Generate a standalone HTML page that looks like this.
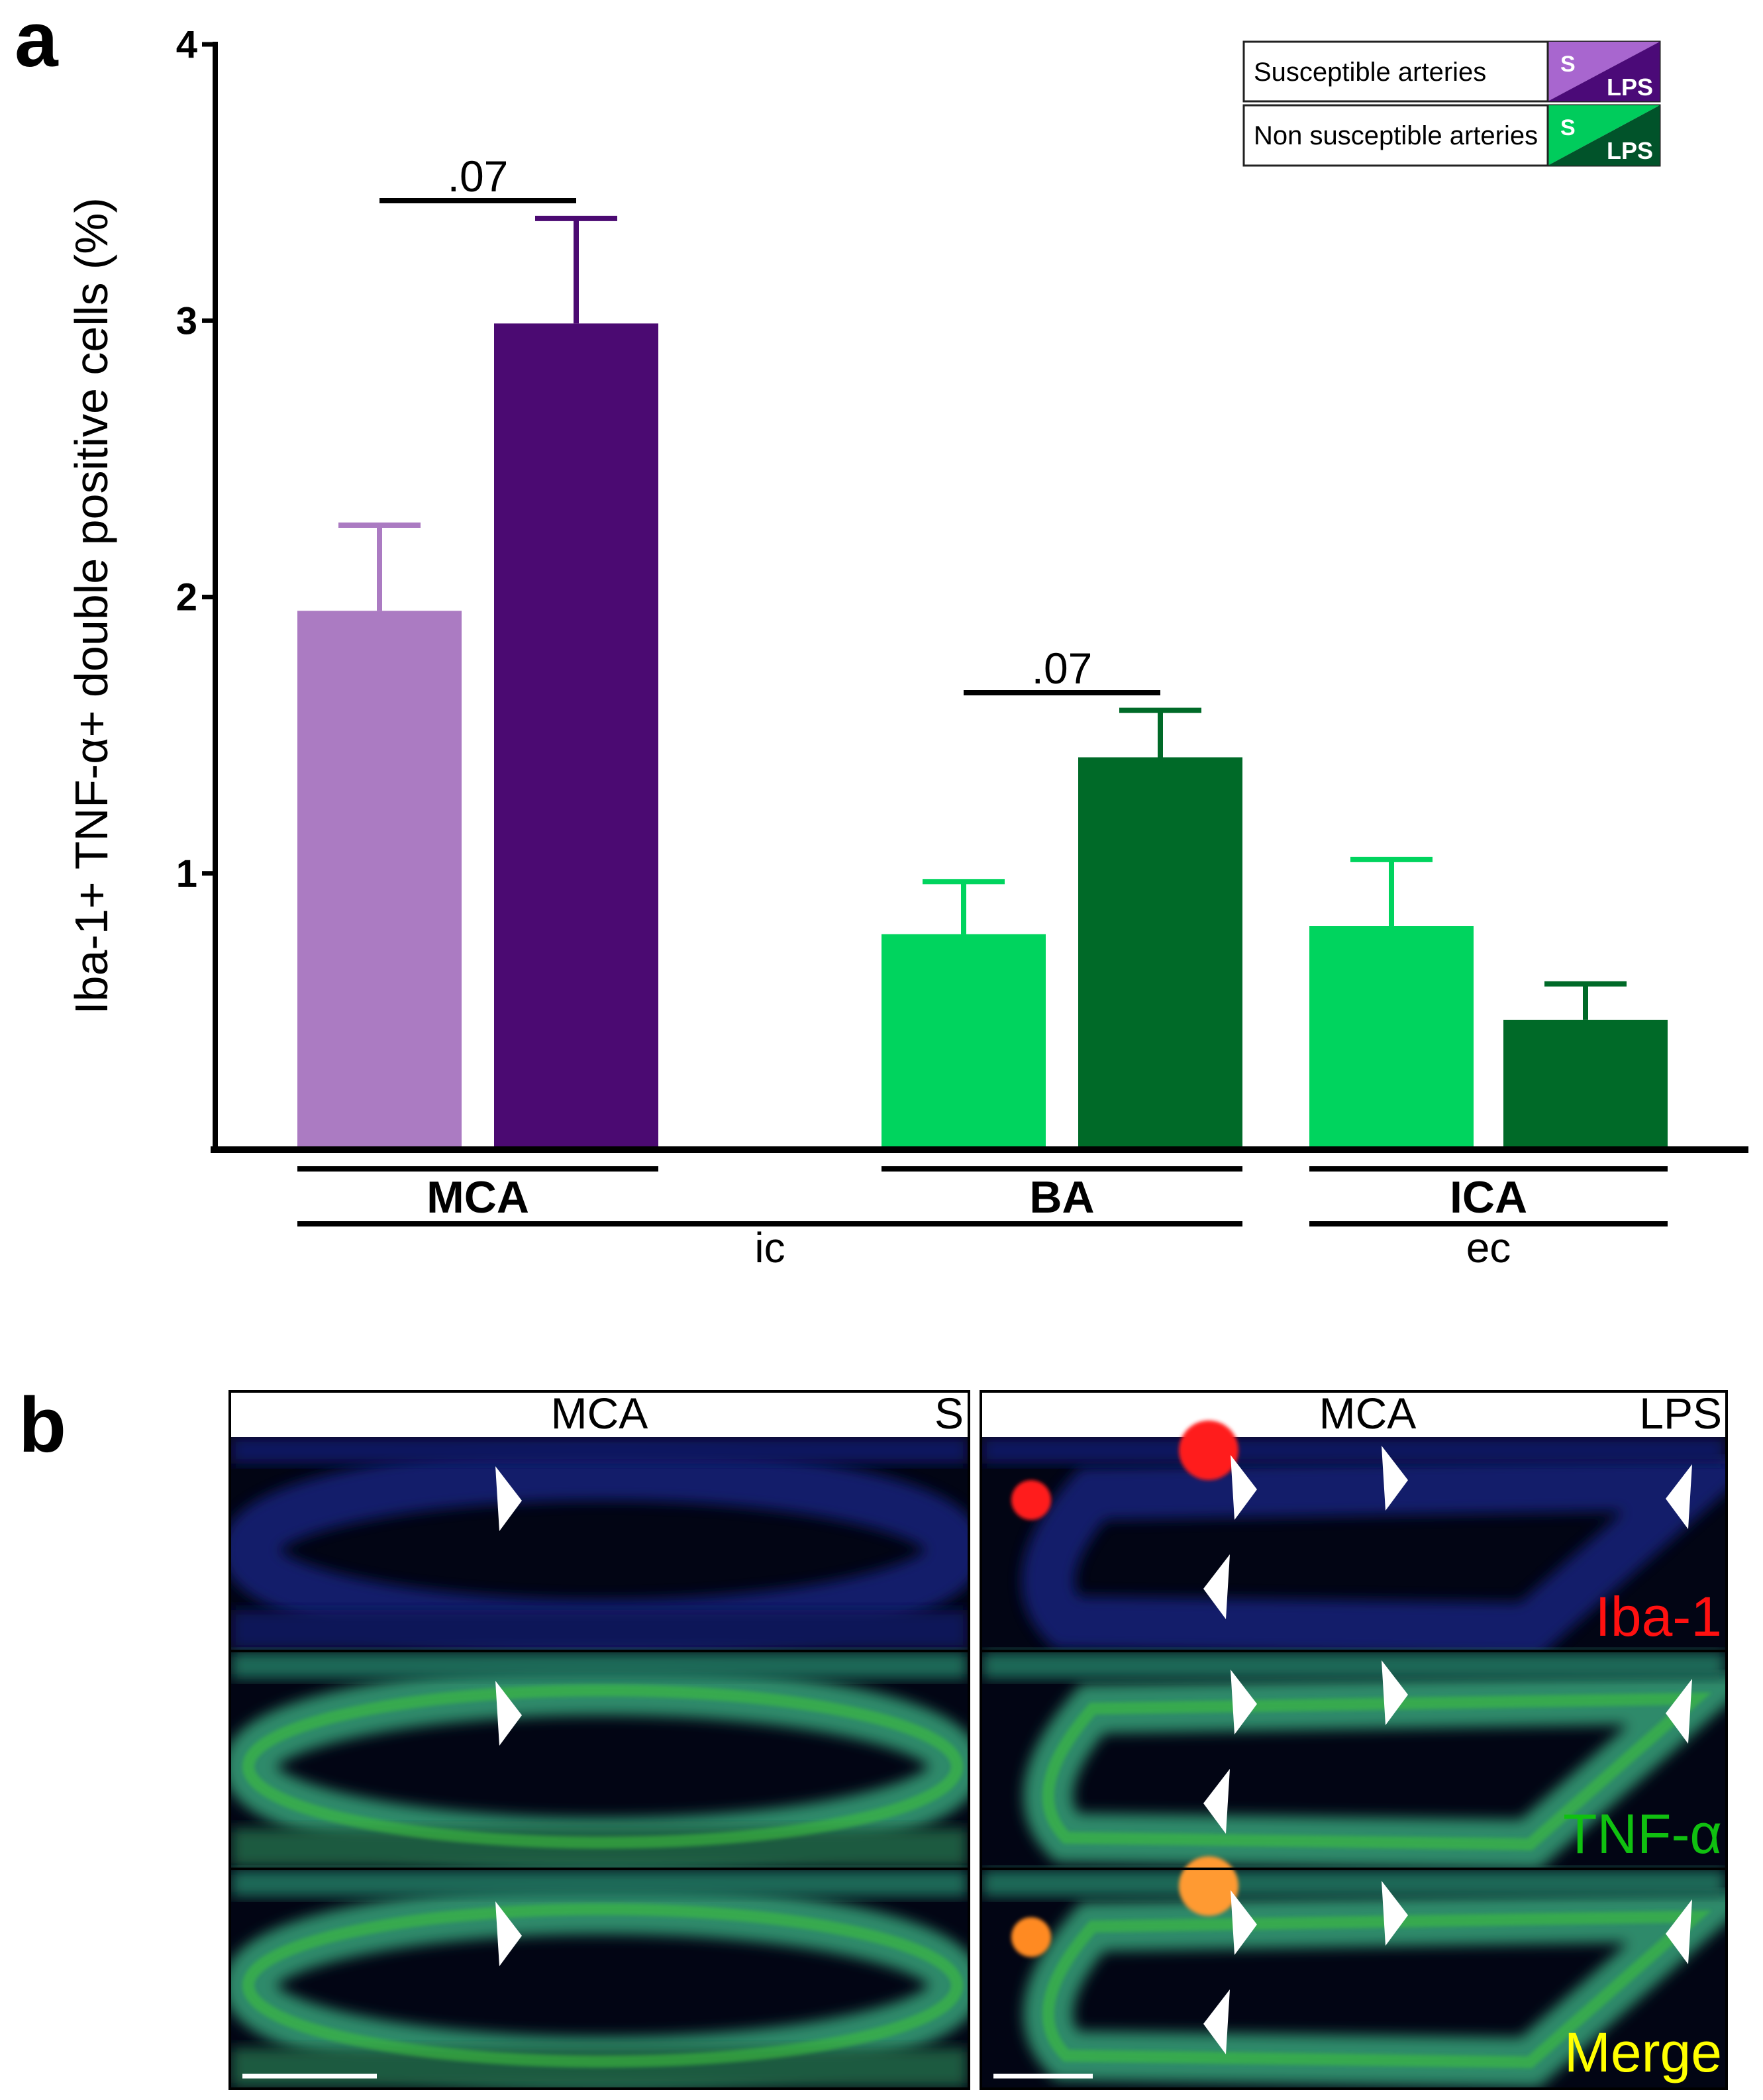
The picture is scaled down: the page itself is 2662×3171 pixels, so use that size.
<!DOCTYPE html>
<html><head><meta charset="utf-8"><style>
html,body{margin:0;padding:0;background:#fff;}
svg{display:block;font-family:"Liberation Sans",sans-serif;}
</style></head><body>
<svg id="fig" width="2662" height="3171" viewBox="0 0 2662 3171" xmlns="http://www.w3.org/2000/svg">
<defs>
  <filter id="blur8" x="-20%" y="-20%" width="140%" height="140%"><feGaussianBlur stdDeviation="10"/></filter>
  <filter id="blur3"><feGaussianBlur stdDeviation="3"/></filter>
  <clipPath id="cl1"><rect x="349" y="2170" width="1112" height="982"/></clipPath>
  <clipPath id="cr1"><rect x="1483" y="2170" width="1122" height="982"/></clipPath>
</defs>
<text x="22" y="100" font-size="118" font-weight="bold">a</text>
<g id="chart"></g>
<g id="legend">
  <rect x="1878" y="63" width="628" height="90" fill="#fff" stroke="#222" stroke-width="3"/>
  <text x="1893" y="122" font-size="40">Susceptible arteries</text>
  <polygon points="2337,63 2506,63 2337,153" fill="#a866cf"/>
  <polygon points="2506,63 2506,153 2337,153" fill="#4b0a78"/>
  <line x1="2337" y1="63" x2="2337" y2="153" stroke="#222" stroke-width="3"/>
  <text x="2356" y="108" font-size="34" font-weight="bold" fill="#fff">S</text>
  <text x="2496" y="144" font-size="36" font-weight="bold" fill="#fff" text-anchor="end">LPS</text>
  <rect x="1878" y="159" width="628" height="91" fill="#fff" stroke="#222" stroke-width="3"/>
  <text x="1893" y="218" font-size="40">Non susceptible arteries</text>
  <polygon points="2337,159 2506,159 2337,250" fill="#00cc5c"/>
  <polygon points="2506,159 2506,250 2337,250" fill="#01532a"/>
  <line x1="2337" y1="159" x2="2337" y2="250" stroke="#222" stroke-width="3"/>
  <text x="2356" y="204" font-size="34" font-weight="bold" fill="#fff">S</text>
  <text x="2496" y="240" font-size="36" font-weight="bold" fill="#fff" text-anchor="end">LPS</text>
</g>

<text x="28" y="2192" font-size="118" font-weight="bold">b</text>
<g id="micro">
  <rect x="347" y="2101" width="1116" height="1053" fill="#fff" stroke="#000" stroke-width="4"/>
  <rect x="1481" y="2101" width="1126" height="1053" fill="#fff" stroke="#000" stroke-width="4"/>
  <text x="905" y="2157" font-size="66" text-anchor="middle">MCA</text>
  <text x="1455" y="2157" font-size="66" text-anchor="end">S</text>
  <text x="2065" y="2157" font-size="66" text-anchor="middle">MCA</text>
  <text x="2600" y="2157" font-size="66" text-anchor="end">LPS</text>
</g>
<script>
// ---- Chart data ----
const categories = ["MCA S", "MCA LPS", "BA S", "BA LPS", "ICA S", "ICA LPS"];
const means = [1.95, 2.99, 0.78, 1.42, 0.81, 0.47];
const sems = [0.31, 0.38, 0.19, 0.17, 0.24, 0.13];
const colors = ["#ab7bc2", "#4b0a72", "#00d45e", "#006a28", "#00d45e", "#006a28"];
const yTicks = [1, 2, 3, 4];
const yTickLabels = ["1", "2", "3", "4"];
const NS = "http://www.w3.org/2000/svg";
const chart = document.getElementById('chart');
const y0 = 1736, yTop = 67, yMax = 4;
function yScale(v){ return y0 - (y0 - yTop) * v / yMax; }
const barLefts = [449, 746, 1331, 1628, 1977, 2270];
const barW = 248;
function xBar(i){ return barLefts[i]; }
function mk(tag, attrs){ const e = document.createElementNS(NS, tag); for (const k in attrs) e.setAttribute(k, attrs[k]); chart.appendChild(e); return e; }
categories.forEach((c, i) => {
  const x = xBar(i), top = yScale(means[i]), et = yScale(means[i] + sems[i]);
  const cx = x + barW / 2;
  const eb = mk('line', {x1: cx, y1: top, x2: cx, y2: et, stroke: colors[i], 'stroke-width': 8});
  
  
  const cap = mk('line', {x1: cx - 62, y1: et, x2: cx + 62, y2: et, stroke: colors[i], 'stroke-width': 8});
  
  
  const r = mk('rect', {x: x, y: top, width: barW, height: y0 - top, fill: colors[i]});
  
  
});
const ya = mk('line', {x1: 325, y1: 63, x2: 325, y2: 1741, stroke: '#000', 'stroke-width': 8});


const xa = mk('line', {x1: 318, y1: 1736, x2: 2640, y2: 1736, stroke: '#000', 'stroke-width': 10});


yTicks.forEach((t, i) => {
  const y = yScale(t);
  const tk = mk('line', {x1: 305, y1: y, x2: 325, y2: y, stroke: '#000', 'stroke-width': 7});
  
  
  const tl = mk('text', {x: 298, y: y + 20, 'font-size': 58, 'font-weight': 'bold', 'text-anchor': 'end'});
  tl.textContent = yTickLabels[i];
  
  
});
const yt = mk('text', {x: 0, y: 0, 'font-size': 70, 'text-anchor': 'middle', transform: 'translate(162,915) rotate(-90)'});
yt.textContent = 'Iba-1+ TNF-\u03B1+ double positive cells (%)';


const sig = [[0, 1, 0.07], [2, 3, 0.07]];
const sigY = [303, 1046];
sig.forEach((s, k) => {
  const x1 = xBar(s[0]) + barW / 2, x2 = xBar(s[1]) + barW / 2;
  const l = mk('line', {x1: x1, y1: sigY[k], x2: x2, y2: sigY[k], stroke: '#000', 'stroke-width': 8});
  
  
  const t = mk('text', {x: (x1 + x2) / 2, y: sigY[k] - 14, 'font-size': 66, 'text-anchor': 'middle'});
  t.textContent = '.07';
  
  
});
const groups = [["MCA", 0, 1], ["BA", 2, 3], ["ICA", 4, 5]];
groups.forEach(g => {
  const x1 = xBar(g[1]), x2 = xBar(g[2]) + barW;
  const l = mk('line', {x1: x1, y1: 1765, x2: x2, y2: 1765, stroke: '#000', 'stroke-width': 8});
  
  
  const t = mk('text', {x: (x1 + x2) / 2, y: 1831, 'font-size': 68, 'font-weight': 'bold', 'text-anchor': 'middle'});
  t.textContent = g[0];
  
  
});
const supers = [["ic", 0, 3], ["ec", 4, 5]];
supers.forEach(g => {
  const x1 = xBar(g[1]), x2 = xBar(g[2]) + barW;
  const l = mk('line', {x1: x1, y1: 1848, x2: x2, y2: 1848, stroke: '#000', 'stroke-width': 8});
  
  
  const t = mk('text', {x: (x1 + x2) / 2, y: 1906, 'font-size': 64, 'text-anchor': 'middle'});
  t.textContent = g[0];
  
  
});

// ---- Micrographs ----
const M = document.getElementById('micro');
function mm(tag, attrs, parent){ const e = document.createElementNS(NS, tag); for (const k in attrs) e.setAttribute(k, attrs[k]); (parent||M).appendChild(e); return e; }
const rows = [2170, 2495, 2824];
const rowH = [321, 325, 328];
const panels = [{x: 349, w: 1112, clip: 'cl1'}, {x: 1483, w: 1122, clip: 'cr1'}];
panels.forEach((p, pi) => {
  const g = mm('g', {'clip-path': 'url(#' + p.clip + ')'});
  rows.forEach((ry, ri) => {
    mm('rect', {x: p.x, y: ry, width: p.w, height: rowH[ri], fill: '#020514'}, g);
    const cy = ry + rowH[ri] / 2 + 10;
    const ringCol = ri === 0 ? '#16207a' : '#2f8a6a';
    const sw = ri === 0 ? 80 : 75;
    const op = ri === 0 ? 0.85 : 1;
    if (pi === 0) {
      mm('ellipse', {cx: 910, cy: cy, rx: 535, ry: 115, fill: 'none', stroke: ringCol, 'stroke-width': sw, filter: 'url(#blur8)', opacity: op}, g);
      mm('rect', {x: p.x, y: ry, width: p.w, height: 40, fill: ri === 0 ? '#0e1660' : '#1f6a58', filter: 'url(#blur8)'}, g);
      mm('rect', {x: p.x, y: ry + rowH[ri] - 60, width: p.w, height: 60, fill: ri === 0 ? '#0e1658' : '#1c5a40', filter: 'url(#blur8)'}, g);
      if (ri > 0) mm('ellipse', {cx: 910, cy: cy, rx: 535, ry: 115, fill: 'none', stroke: '#3cbf3c', 'stroke-width': 18, filter: 'url(#blur3)', opacity: 0.6}, g);
    } else {
      const d = 'M1650,' + (ry + 85) + ' L2560,' + (ry + 70) + ' L2310,' + (ry + 290) + ' L1610,' + (ry + 280) + ' Q1540,' + (ry + 210) + ' 1650,' + (ry + 85) + ' Z';
      mm('path', {d: d, fill: 'none', stroke: ringCol, 'stroke-width': sw, filter: 'url(#blur8)', opacity: op}, g);
      mm('rect', {x: p.x, y: ry, width: p.w, height: 40, fill: ri === 0 ? '#0e1660' : '#1f6a58', filter: 'url(#blur8)'}, g);
      if (ri > 0) mm('path', {d: d, fill: 'none', stroke: '#3cbf3c', 'stroke-width': 18, filter: 'url(#blur3)', opacity: 0.6}, g);
    }
  });
});
[[1825, 2190, 45, '#ff1a1a'], [1557, 2265, 30, '#ff1a1a']].forEach(c => mm('circle', {cx: c[0], cy: c[1], r: c[2], fill: c[3], filter: 'url(#blur3)'}));
[[1825, 2848, 45, '#ff9a30'], [1557, 2925, 30, '#ff8a20']].forEach(c => mm('circle', {cx: c[0], cy: c[1], r: c[2], fill: c[3], filter: 'url(#blur3)'}));
const arrows = [[766, 2264, 1], [1876, 2247, 1], [2104, 2233, 1], [2537, 2261, -1], [1839, 2397, -1]];
const rowOff = [0, 324, 657];
rowOff.forEach(off => {
  arrows.forEach(a => {
    const x = a[0], y = a[1] + off, s = a[2];
    const pts = (x - 18 * s) + ',' + (y - 50) + ' ' + (x + 22 * s) + ',' + (y + 2) + ' ' + (x - 12 * s) + ',' + (y + 48);
    const t = mm('polygon', {points: pts, fill: '#fff'});
    
    
  });
});
const ch = [['Iba-1', '#ff1010', 2470], ['TNF-\u03B1', '#10c010', 2798], ['Merge', '#ffff00', 3128]];
ch.forEach(c => {
  const t = mm('text', {x: 2600, y: c[2], 'font-size': 84, 'text-anchor': 'end', fill: c[1]});
  t.textContent = c[0];
  
  
});
mm('line', {x1: 366, y1: 3135, x2: 569, y2: 3135, stroke: '#fff', 'stroke-width': 7});
mm('line', {x1: 1500, y1: 3135, x2: 1650, y2: 3135, stroke: '#fff', 'stroke-width': 7});
[2493, 2822].forEach(y => { mm('line', {x1: 347, y1: y, x2: 1463, y2: y, stroke: '#000', 'stroke-width': 4}); mm('line', {x1: 1481, y1: y, x2: 2607, y2: y, stroke: '#000', 'stroke-width': 4}); });
</script>
</svg>
</body></html>
